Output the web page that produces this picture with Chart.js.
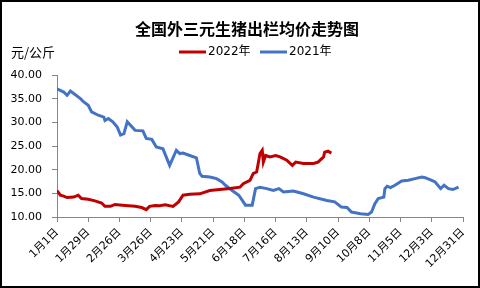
<!DOCTYPE html>
<html>
<head>
<meta charset="utf-8">
<script src="https://cdn.jsdelivr.net/npm/chart.js@4/dist/chart.umd.min.js"></script>
<style>
  html, body { margin: 0; padding: 0; background: #fff; }
  #wrap { width: 480px; height: 288px; position: relative; }
</style>
</head>
<body>
<div id="wrap"><canvas id="c" width="480" height="288"></canvas></div>
<script>
// 日序号（1月1日 = 0），价格单位 元/公斤
const days2021 = [0, 6, 9, 12, 15, 21, 24, 28, 31, 37, 42, 43, 46, 50, 54, 57, 60, 63, 70, 77, 80, 85, 89, 95, 101, 107, 110, 113, 119, 125, 128, 130, 137, 143, 148, 151, 157, 163, 169, 175, 178, 182, 188, 194, 199, 203, 212, 221, 230, 242, 249, 255, 260, 264, 272, 279, 282, 285, 288, 293, 294, 296, 299, 303, 309, 315, 321, 327, 330, 336, 339, 344, 347, 351, 355, 360];
const price2021 = [37.1, 36.4, 35.7, 36.6, 36.1, 35.0, 34.3, 33.6, 32.2, 31.5, 31.1, 30.4, 30.8, 30.1, 29.0, 27.3, 27.6, 30.1, 28.3, 28.2, 26.6, 26.4, 24.8, 24.4, 20.9, 24.1, 23.4, 23.5, 23.0, 22.5, 19.2, 18.6, 18.45, 18.1, 17.4, 16.7, 15.6, 14.6, 12.5, 12.5, 16.0, 16.3, 16.0, 15.6, 16.0, 15.3, 15.5, 14.9, 14.2, 13.5, 13.2, 12.1, 12.0, 11.05, 10.7, 10.55, 11.05, 12.8, 13.9, 14.2, 16.0, 16.5, 16.2, 16.7, 17.6, 17.75, 18.1, 18.45, 18.3, 17.75, 17.4, 16.0, 16.7, 16.0, 15.8, 16.3];

const days2022 = [0, 3, 6, 9, 15, 19, 22, 28, 34, 40, 43, 48, 52, 61, 70, 76, 80, 83, 88, 92, 97, 104, 109, 113, 119, 128, 137, 155, 164, 167, 173, 176, 179, 182, 184, 185, 187, 191, 196, 200, 206, 211, 214, 221, 230, 234, 239, 240, 243, 246];
const price2022 = [15.6, 14.6, 14.4, 14.1, 14.2, 14.6, 13.9, 13.75, 13.4, 12.95, 12.25, 12.25, 12.65, 12.45, 12.25, 12.0, 11.55, 12.25, 12.45, 12.4, 12.6, 12.25, 13.2, 14.6, 14.8, 14.9, 15.6, 16.0, 16.3, 17.05, 17.75, 19.2, 19.5, 23.4, 24.1, 21.6, 23.0, 22.7, 23.0, 22.7, 22.0, 20.9, 21.6, 21.3, 21.3, 21.6, 22.7, 23.7, 23.9, 23.5];

const xTickLabels = ['1月1日', '1月29日', '2月26日', '3月26日', '4月23日', '5月21日', '6月18日', '7月16日', '8月13日', '9月10日', '10月8日', '11月5日', '12月3日', '12月31日'];

const toPoints = (xs, ys) => xs.map((d, i) => ({ x: d, y: ys[i] }));

const decor = {
  id: 'decor',
  afterDraw(chart) {
    const ctx = chart.ctx;
    ctx.save();
    ctx.fillStyle = '#000';
    ctx.textBaseline = 'middle';
    ctx.textAlign = 'center';
    ctx.font = 'bold 16px "Noto Sans CJK SC"';
    ctx.fillText('全国外三元生猪出栏均价走势图', 247, 29);

    ctx.textAlign = 'left';
    ctx.font = '13px "Noto Sans CJK SC"';
    ctx.fillText('元/公斤', 11, 52);

    const items = [
      { label: '2022年', color: '#C00000', x: 179 },
      { label: '2021年', color: '#4472C4', x: 260 }
    ];
    ctx.font = '12px "DejaVu Sans", "Noto Sans CJK SC"';
    items.forEach(it => {
      ctx.strokeStyle = it.color;
      ctx.lineWidth = 3;
      ctx.beginPath();
      ctx.moveTo(it.x, 52);
      ctx.lineTo(it.x + 27, 52);
      ctx.stroke();
      ctx.fillStyle = '#000';
      ctx.fillText(it.label, it.x + 29, 52);
    });

    ctx.strokeStyle = '#000';
    ctx.lineWidth = 2;
    ctx.strokeRect(1, 1, 478, 286);
    ctx.restore();
  }
};

new Chart(document.getElementById('c'), {
  type: 'line',
  data: {
    datasets: [
      {
        label: '2022年',
        data: toPoints(days2022, price2022),
        borderColor: '#C00000',
        borderWidth: 3,
        pointRadius: 0,
        tension: 0
      },
      {
        label: '2021年',
        data: toPoints(days2021, price2021),
        borderColor: '#4472C4',
        borderWidth: 3,
        pointRadius: 0,
        tension: 0
      }
    ]
  },
  options: {
    responsive: false,
    animation: false,
    layout: { padding: { top: 75, right: 17, left: 0, bottom: 0 } },
    plugins: {
      legend: { display: false },
      title: { display: false },
      tooltip: { enabled: false }
    },
    scales: {
      x: {
        type: 'linear',
        min: 0,
        max: 364,
        afterFit: (s) => { s.height = 71; },
        grid: { drawOnChartArea: false, drawTicks: true, tickLength: 5, color: '#868686' },
        border: { color: '#868686', width: 1 },
        ticks: {
          stepSize: 28,
          autoSkip: false,
          maxRotation: 45,
          minRotation: 45,
          padding: 4,
          color: '#000',
          font: { family: '"DejaVu Sans", "Noto Sans CJK SC"', size: 11 },
          callback: (v) => xTickLabels[Math.round(v / 28)]
        }
      },
      y: {
        min: 10,
        max: 40,
        afterFit: (s) => { s.width = 57; },
        grid: { drawOnChartArea: false, drawTicks: true, tickLength: 5, color: '#868686' },
        border: { color: '#868686', width: 1 },
        ticks: {
          stepSize: 5,
          padding: 10,
          color: '#000',
          font: { family: '"DejaVu Sans"', size: 11 },
          callback: (v) => v.toFixed(2)
        }
      }
    }
  },
  plugins: [decor]
});
</script>
</body>
</html>
